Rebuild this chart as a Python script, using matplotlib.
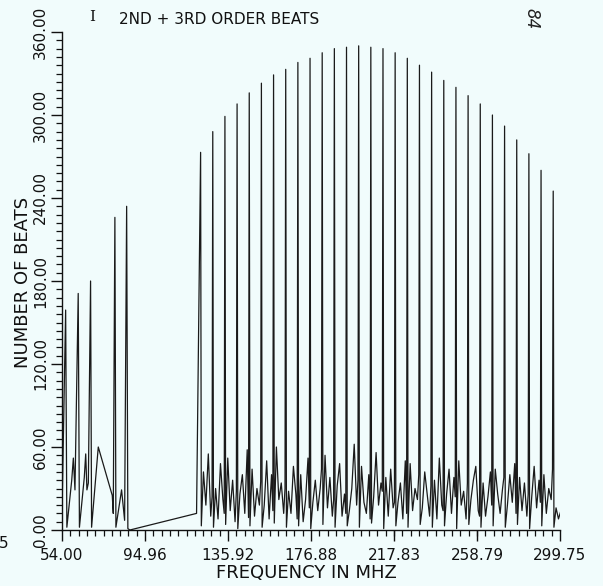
#!/usr/bin/env python
# -*- coding: utf-8 -*-

"""
二阶 + 三阶差拍数量随频率分布图
"""

import matplotlib
matplotlib.use('Agg')
import matplotlib.pyplot as plt
from matplotlib.ticker import FixedLocator, MultipleLocator, AutoMinorLocator

# 低频段 (VHF 低段) 的折线点: 频率 (MHz) 与差拍数
low_band_freq = [54.0, 54.15, 55.8, 56.4, 58.8, 59.6, 60.4, 62.0, 62.6,
                 65.0, 65.7, 66.3, 67.0, 68.1, 68.6, 71.9, 78.8, 79.3,
                 80.1, 80.6, 83.4, 84.9, 85.9, 86.5, 87.5, 120.4]
low_band_beats = [0, 24, 159, 2, 36, 52, 29, 171, 2,
                  38, 55, 29, 34, 180, 2, 60, 25, 12,
                  226, 2, 29, 7, 234, 1, 0, 12]

# 高频段各频道载波频率 (MHz) 及其峰值差拍数
carrier_freq = [122.4, 128.4, 134.4, 140.4, 146.4, 152.4, 158.4, 164.4,
                170.4, 176.4, 182.4, 188.4, 194.4, 200.4, 206.4, 212.4,
                218.4, 224.4, 230.4, 236.4, 242.4, 248.4, 254.4, 260.4,
                266.4, 272.4, 278.4, 284.4, 290.4, 296.4]
carrier_beats = [273, 288, 299, 308, 316, 323, 329, 333, 338, 341,
                 345, 348, 349, 350, 349, 348, 345, 341, 336, 331,
                 325, 320, 314, 308, 300, 292, 282, 272, 260, 245]

# 相邻载波之间的底部差拍数 (每个频道 6 个采样)
floor_beats = [
    [3, 42, 18, 55, 10, 24],
    [2, 30, 8, 48, 22, 12],
    [4, 52, 14, 36, 6, 28],
    [1, 26, 40, 12, 58, 9],
    [3, 44, 10, 30, 18, 35],
    [2, 18, 50, 8, 40, 14],
    [5, 60, 22, 34, 12, 30],
    [2, 28, 12, 46, 26, 8],
    [3, 40, 6, 22, 52, 16],
    [1, 20, 36, 14, 30, 44],
    [4, 54, 16, 38, 10, 22],
    [2, 32, 48, 10, 26, 12],
    [3, 14, 30, 62, 18, 36],
    [2, 46, 20, 12, 40, 8],
    [5, 24, 56, 18, 34, 28],
    [1, 38, 10, 44, 16, 20],
    [3, 20, 34, 8, 50, 12],
    [2, 48, 14, 30, 22, 40],
    [4, 16, 42, 26, 10, 32],
    [2, 36, 8, 52, 18, 14],
    [3, 26, 44, 12, 38, 24],
    [1, 50, 18, 28, 8, 34],
    [4, 22, 36, 46, 14, 10],
    [2, 34, 10, 24, 42, 18],
    [3, 44, 26, 12, 30, 38],
    [2, 18, 40, 20, 48, 12],
    [4, 38, 14, 34, 10, 26],
    [1, 24, 46, 16, 36, 20],
    [3, 40, 12, 30, 22, 44],
    [2, 16, 8, 14, 4, 0],
]

# 坐标轴刻度
x_ticks = [54.00, 94.96, 135.92, 176.88, 217.83, 258.79, 299.75]
x_tick_labels = ['54.00', '94.96', '135.92', '176.88', '217.83', '258.79', '299.75']
y_ticks = [0, 60, 120, 180, 240, 300, 360]

# 频道内采样点相对载波的偏移 (MHz)
FLOOR_OFFSETS = [0.35, 1.4, 2.6, 3.8, 5.0, 5.65]


def build_series():
    """
    拼接低频段与高频段数据, 得到整条折线
    """
    freq = list(low_band_freq)
    beats = list(low_band_beats)
    for fc, peak, floor in zip(carrier_freq, carrier_beats, floor_beats):
        freq.append(fc)
        beats.append(peak)
        for off, v in zip(FLOOR_OFFSETS, floor):
            freq.append(fc + off)
            beats.append(v)
    return freq, beats


def main():
    plt.rcParams['font.family'] = ['DejaVu Sans']
    bg = '#f1fcfc'

    fig = plt.figure(figsize=(6.03, 5.86), dpi=100, facecolor=bg)
    ax = fig.add_axes([62 / 603, 1 - 530 / 586, 498 / 603, 498 / 586])
    ax.set_facecolor(bg)

    freq, beats = build_series()
    ax.plot(freq, beats, color='#1a1a1a', lw=0.9)

    ax.set_xlim(54.0, 299.75)
    ax.set_ylim(0, 360)

    # 只保留左侧和底部坐标轴
    for side in ('top', 'right'):
        ax.spines[side].set_visible(False)
    for side in ('left', 'bottom'):
        ax.spines[side].set_linewidth(1.0)
        ax.spines[side].set_color('#111111')

    ax.xaxis.set_major_locator(FixedLocator(x_ticks))
    ax.xaxis.set_minor_locator(AutoMinorLocator(10))
    ax.set_xticklabels(x_tick_labels)
    ax.yaxis.set_major_locator(FixedLocator(y_ticks))
    ax.yaxis.set_minor_locator(MultipleLocator(6))
    ax.set_yticklabels(['%.2f' % v for v in y_ticks], rotation=90, va='center')

    ax.tick_params(which='major', direction='out', length=8, width=1.0,
                   color='#111111', labelsize=11, labelcolor='#111111')
    ax.tick_params(which='minor', direction='out', length=4, width=0.9,
                   color='#111111')
    ax.tick_params(axis='x', which='major', pad=5)
    ax.tick_params(axis='y', which='major', pad=2)

    # 轴标题与图题
    fig.text(306 / 603, 1 - 573 / 586, 'FREQUENCY IN MHZ', ha='center',
             va='center', fontsize=13, color='#111111')
    fig.text(23 / 603, 1 - 282 / 586, 'NUMBER OF BEATS', ha='center',
             va='center', rotation=90, fontsize=13, color='#111111')
    fig.text(119 / 603, 1 - 19 / 586, '2ND + 3RD ORDER BEATS', ha='left',
             va='center', fontsize=11, color='#111111')
    fig.text(92 / 603, 1 - 17 / 586, 'I', ha='center', va='center',
             fontsize=11, family='DejaVu Serif', color='#111111')
    fig.text(531 / 603, 1 - 19 / 586, '84', ha='center', va='center',
             rotation=-90, fontsize=12, style='italic', color='#222222')
    fig.text(4 / 603, 1 - 544 / 586, '5', ha='center', va='center',
             fontsize=11, color='#111111')

    fig.savefig('out.png', dpi=100, facecolor=bg)


if __name__ == '__main__':
    main()
